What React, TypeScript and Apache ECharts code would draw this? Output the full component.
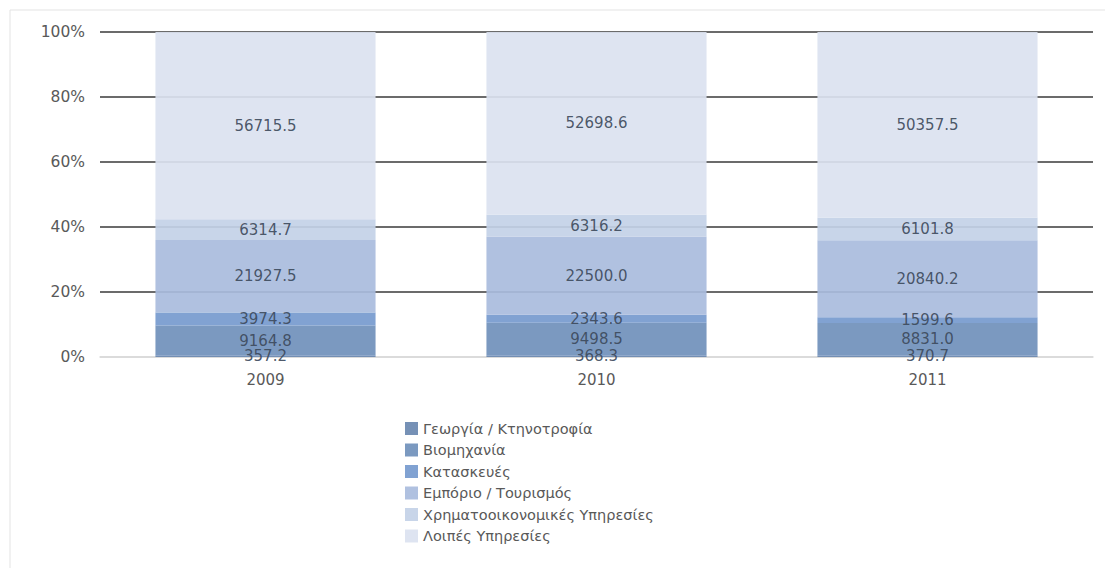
import React, { useEffect, useRef } from "react";
import * as echarts from "echarts";

const years = ["2009", "2010", "2011"];
const sectors = [
  "Γεωργία / Κτηνοτροφία",
  "Βιομηχανία",
  "Κατασκευές",
  "Εμπόριο / Τουρισμός",
  "Χρηματοοικονομικές Υπηρεσίες",
  "Λοιπές Υπηρεσίες",
];
const agriculture = [357.2, 368.3, 370.7];
const industry = [9164.8, 9498.5, 8831.0];
const construction = [3974.3, 2343.6, 1599.6];
const trade = [21927.5, 22500.0, 20840.2];
const finance = [6314.7, 6316.2, 6101.8];
const otherServices = [56715.5, 52698.6, 50357.5];
const yTicks = [0, 20, 40, 60, 80, 100];

const colors = ["#6a88b0", "#7090bb", "#769ace", "#a9bcdd", "#c3d1e7", "#dbe2f0"];

export default function App() {
  const ref = useRef<HTMLDivElement>(null);
  useEffect(() => {
    if (!ref.current) return;
    const chart = echarts.init(ref.current, null, { renderer: "svg" });
    const all = [agriculture, industry, construction, trade, finance, otherServices];
    const totals = years.map((_, i) => all.reduce((s, arr) => s + arr[i], 0));
    const font = "DejaVu Sans";
    chart.setOption({
      animation: false,
      backgroundColor: "#ffffff",
      textStyle: { fontFamily: font },
      graphic: [
        {
          type: "rect",
          shape: { x: 10, y: 10, width: 1110, height: 600 },
          style: { fill: "none", stroke: "#e3e3e3", lineWidth: 1 },
          silent: true,
          z: -10,
        },
      ],
      grid: { left: 100, right: 12, top: 32, bottom: 211, containLabel: false },
      legend: {
        orient: "vertical",
        left: 400,
        top: 416,
        icon: "rect",
        itemWidth: 13,
        itemHeight: 13,
        itemGap: 6.5,
        data: sectors,
        textStyle: { fontFamily: font, fontSize: 14.5, color: "#595959" },
      },
      xAxis: {
        type: "category",
        data: years,
        axisLine: { show: true, lineStyle: { color: "#d9d9d9", width: 1.5 } },
        axisTick: { show: false },
        axisLabel: { color: "#595959", fontSize: 15, margin: 15, fontFamily: font },
      },
      yAxis: {
        type: "value",
        min: yTicks[0],
        max: yTicks[yTicks.length - 1],
        interval: 20,
        axisLine: { show: false },
        axisTick: { show: false },
        axisLabel: {
          formatter: "{value}%",
          color: "#595959",
          fontSize: 15.5,
          margin: 15,
          fontFamily: font,
        },
        splitLine: {
          show: true,
          lineStyle: {
            color: ["#d9d9d9", "#3a3a3a", "#3a3a3a", "#3a3a3a", "#3a3a3a", "#3a3a3a"],
            width: 1.5,
          },
        },
      },
      series: all.map((arr, si) => ({
        name: sectors[si],
        type: "bar",
        stack: "total",
        barWidth: "66.5%",
        itemStyle: { color: colors[si], opacity: 0.92 },
        label: {
          show: true,
          position: "inside",
          color: "#3d4a5c",
          fontSize: 15,
          fontFamily: font,
          formatter: (p: any) => arr[p.dataIndex].toFixed(1),
        },
        data: arr.map((v, i) => (v / totals[i]) * 100),
      })),
    });
    return () => chart.dispose();
  }, []);
  return (
    <div
      ref={ref}
      style={{ position: "fixed", left: 0, top: 0, width: 1105, height: 568, background: "#fff" }}
    />
  );
}
